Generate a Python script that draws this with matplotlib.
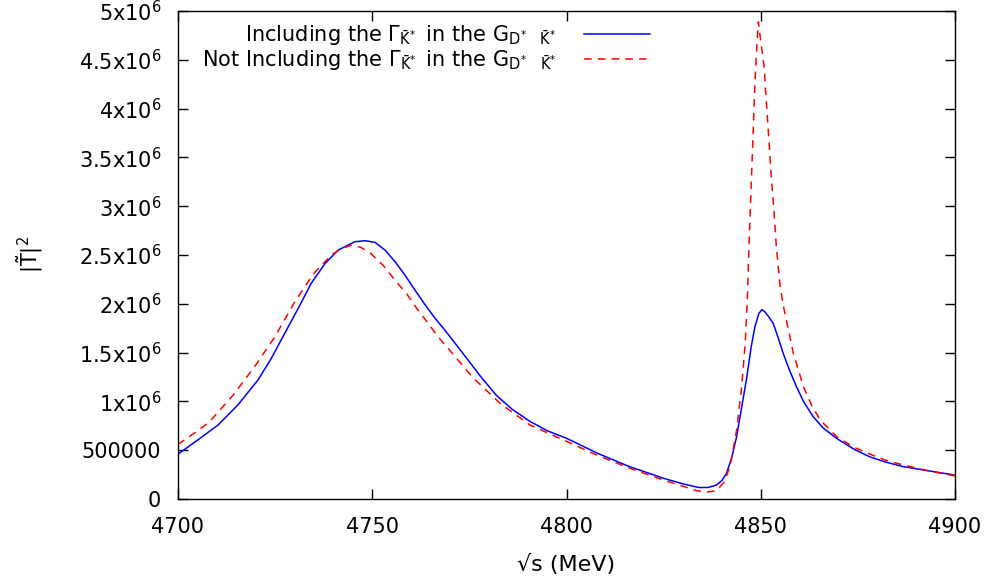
import matplotlib
matplotlib.use("Agg")
import matplotlib.pyplot as plt
from matplotlib.ticker import FixedLocator, FixedFormatter

# curve values, |T|^2 in units of 1e6
s_blue = [4700, 4705.1, 4710.3, 4715.4, 4720.6, 4724, 4727.5, 4730.9, 4734.3, 4737.8,
          4741.2, 4745.5, 4748.1, 4750.7, 4753.3, 4755.9, 4758.4, 4761, 4763.6, 4766.2,
          4768.7, 4773, 4778, 4782, 4786, 4790.6, 4795, 4800, 4808, 4816, 4825, 4830,
          4834, 4836.5, 4838.6, 4840, 4841.2, 4842.5, 4843.8, 4845, 4846.3, 4847.5,
          4848.5, 4849.5, 4850.3, 4851, 4852, 4853.2, 4854.5, 4855.8, 4857.5, 4859.2,
          4861, 4863.5, 4866, 4869.5, 4874, 4878, 4882, 4886.7, 4893, 4900]
t_blue = [0.46, 0.605, 0.758, 0.963, 1.22, 1.44, 1.70, 1.95, 2.21, 2.41,
          2.55, 2.636, 2.646, 2.63, 2.55, 2.43, 2.295, 2.14, 1.99, 1.85,
          1.73, 1.51, 1.25, 1.06, 0.92, 0.795, 0.70, 0.622, 0.468, 0.335, 0.212, 0.155,
          0.118, 0.118, 0.143, 0.19, 0.263, 0.42, 0.64, 0.92, 1.22, 1.55,
          1.765, 1.90, 1.94, 1.92, 1.87, 1.80, 1.65, 1.49, 1.31, 1.15,
          1.00, 0.843, 0.73, 0.622, 0.51, 0.433, 0.38, 0.331, 0.29, 0.245]

s_red = [4700, 4704.4, 4708.1, 4714.2, 4719.7, 4724.9, 4729.6, 4734.7, 4739.5, 4742,
         4744.6, 4747, 4749.5, 4752.9, 4755.9, 4758.9, 4761.5, 4764, 4767, 4769.6,
         4776, 4782.9, 4790.6, 4799.2, 4807.8, 4816.3, 4824.9, 4830, 4833.5, 4836,
         4838.6, 4840.5, 4842.1, 4843.8, 4845.1, 4846, 4846.5, 4847, 4847.5, 4848,
         4848.5, 4849, 4849.4, 4849.8, 4850.3, 4850.9, 4851.5, 4852.1, 4852.7, 4853.4,
         4854, 4854.9, 4855.7, 4856.5, 4858.4, 4861, 4863.1, 4865.3, 4869.5, 4874,
         4878.1, 4882, 4886.7, 4893, 4900]
t_red = [0.56, 0.68, 0.79, 1.065, 1.355, 1.66, 1.99, 2.30, 2.50, 2.565,
         2.60, 2.58, 2.52, 2.39, 2.24, 2.10, 1.95, 1.82, 1.66, 1.54,
         1.24, 0.98, 0.758, 0.605, 0.45, 0.315, 0.195, 0.13, 0.085, 0.07,
         0.085, 0.17, 0.33, 0.71, 1.15, 1.60, 2.0, 2.62, 3.17, 3.71,
         4.26, 4.65, 4.89, 4.75, 4.60, 4.41, 4.04, 3.68, 3.30, 2.96,
         2.59, 2.21, 2.00, 1.85, 1.49, 1.15, 0.96, 0.81, 0.64, 0.53,
         0.46, 0.40, 0.348, 0.29, 0.236]

x_ticks = [4700, 4750, 4800, 4850, 4900]
y_ticks = [0, 0.5, 1, 1.5, 2, 2.5, 3, 3.5, 4, 4.5, 5]
y_labels = ["0", "500000", "1x10$^{6}$", "1.5x10$^{6}$", "2x10$^{6}$", "2.5x10$^{6}$",
            "3x10$^{6}$", "3.5x10$^{6}$", "4x10$^{6}$", "4.5x10$^{6}$", "5x10$^{6}$"]

label_blue = r"Including the $\Gamma_{\bar{K}^{*}}\,$ in the $G_{D^{*}\ \ \ \bar{K}^{*}}$"
label_red = r"Not Including the $\Gamma_{\bar{K}^{*}}\,$ in the $G_{D^{*}\ \ \ \bar{K}^{*}}$"

plt.rcParams["font.family"] = "DejaVu Sans"
plt.rcParams["font.size"] = 15
plt.rcParams["mathtext.default"] = "regular"

fig = plt.figure(figsize=(9.9, 5.81), dpi=100)
ax = fig.add_axes([178 / 990, 82 / 581, 777 / 990, 488 / 581])

ax.plot(s_blue, t_blue, color="#0000ff", lw=1.1, label=label_blue)
ax.plot(s_red, t_red, color="#ff0000", lw=1.1, linestyle=(0, (5, 4)), label=label_red)

ax.set_xlim(4700, 4900)
ax.set_ylim(0, 5)
ax.xaxis.set_major_locator(FixedLocator(x_ticks))
ax.yaxis.set_major_locator(FixedLocator(y_ticks))
ax.yaxis.set_major_formatter(FixedFormatter(y_labels))
ax.tick_params(direction="in", length=7, width=1, top=True, right=True,
               labelsize=15, color="black")
ax.tick_params(axis="x", pad=13)
ax.tick_params(axis="y", pad=12)
for sp in ax.spines.values():
    sp.set_linewidth(1)

ax.set_xlabel("√s (MeV)", fontsize=16, labelpad=12)
ax.set_ylabel(r"$|\tilde{T}|^{2}$", fontsize=15, labelpad=24)

ax.legend(loc="upper right", bbox_to_anchor=(0.608, 0.975), frameon=False,
          markerfirst=False, handlelength=3.2, handletextpad=1.3,
          borderaxespad=0, borderpad=0, labelspacing=0.05, fontsize=15)

fig.savefig("out.png", dpi=100)
